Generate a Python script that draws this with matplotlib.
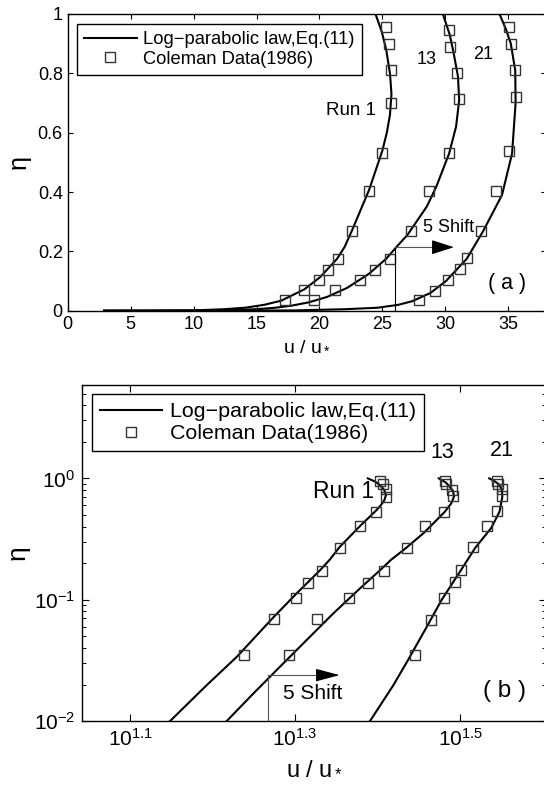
import matplotlib
matplotlib.use("Agg")
import matplotlib.pyplot as plt
from matplotlib.ticker import FixedLocator, LogLocator, NullFormatter, NullLocator

plt.rcParams['font.family'] = ['Liberation Sans', 'DejaVu Sans']
plt.rcParams['mathtext.fontset'] = 'custom'
plt.rcParams['mathtext.rm'] = 'Liberation Sans'
plt.rcParams['mathtext.it'] = 'Liberation Sans:italic'
plt.rcParams['mathtext.bf'] = 'Liberation Sans:bold'

# Coleman (1986) measured points, u/u* (with 5 shift between runs) and eta
run1_u = [17.3, 18.8, 20.0, 20.7, 21.5, 22.6, 23.9, 25.0, 25.7, 25.7, 25.5, 25.3]
run1_eta = [0.035, 0.069, 0.104, 0.138, 0.174, 0.267, 0.403, 0.53, 0.70, 0.81, 0.90, 0.955]
run13_u = [19.6, 21.2, 23.2, 24.45, 25.6, 27.3, 28.7, 30.27, 31.05, 30.9, 30.4, 30.3]
run13_eta = [0.035, 0.069, 0.103, 0.138, 0.173, 0.268, 0.403, 0.53, 0.713, 0.80, 0.89, 0.947]
run21_u = [27.9, 29.2, 30.2, 31.15, 31.75, 32.8, 34.05, 35.05, 35.6, 35.55, 35.2, 35.05]
run21_eta = [0.035, 0.068, 0.104, 0.14, 0.177, 0.27, 0.405, 0.537, 0.72, 0.81, 0.90, 0.957]

# Log-parabolic law curves
law1_u = [2.9, 6.0, 10.0, 12.4, 14.08, 15.6, 16.96, 18.8, 20.05, 21.4, 22.0, 22.6, 23.95,
          25.0, 25.35, 25.6, 25.72, 25.6, 25.3, 24.95, 24.45]
law1_eta = [1e-5, 1e-4, 1e-3, 0.005, 0.01, 0.0198, 0.0338, 0.072, 0.113, 0.175, 0.215, 0.272, 0.408,
            0.54, 0.60, 0.66, 0.73, 0.80, 0.88, 0.94, 1.0]
law13_u = [2.9, 7.0, 12.0, 15.0, 16.49, 17.77, 19.13, 20.61, 22.2, 23.92, 25.3, 26.1, 27.0,
           28.54, 29.3, 30.3, 30.85, 31.1, 31.0, 30.65, 30.35, 29.8]
law13_eta = [1e-5, 1e-4, 1e-3, 0.005, 0.01, 0.0169, 0.028, 0.0465, 0.077, 0.124, 0.175, 0.214, 0.256,
             0.352, 0.42, 0.53, 0.62, 0.71, 0.79, 0.87, 0.93, 1.0]
law21_u = [2.9, 12.0, 18.0, 22.0, 24.6, 26.26, 27.35, 28.82, 30.05, 31.7, 33.0, 34.5, 35.3,
           35.58, 35.55, 35.2, 34.8, 34.3]
law21_eta = [1e-6, 1e-4, 1e-3, 0.005, 0.01, 0.0198, 0.0318, 0.0598, 0.1, 0.175, 0.268, 0.39, 0.53,
             0.70, 0.81, 0.90, 0.95, 1.0]

runs_u = [run1_u, run13_u, run21_u]
runs_eta = [run1_eta, run13_eta, run21_eta]
laws_u = [law1_u, law13_u, law21_u]
laws_eta = [law1_eta, law13_eta, law21_eta]

lab_line = 'Log\u2212parabolic law,Eq.(11)'
lab_data = 'Coleman Data(1986)'

fig = plt.figure(figsize=(5.44, 7.90), dpi=100)

# ---------------- (a) linear axes ----------------
ax1 = fig.add_axes([0.1244, 0.6067, 0.8794, 0.3756])
for k in range(3):
    ax1.plot(laws_u[k], laws_eta[k], color='black', lw=1.5,
             label=lab_line if k == 0 else None)
for k in range(3):
    ax1.plot(runs_u[k], runs_eta[k], 's', ms=6.5, mfc='none', mec='#333333', mew=1.0,
             label=lab_data if k == 0 else None)

ax1.set_xlim(0, 38)
ax1.set_ylim(0, 1)
ax1.set_xticks([0, 5, 10, 15, 20, 25, 30, 35])
ax1.set_yticks([0, 0.2, 0.4, 0.6, 0.8, 1])
ax1.set_yticklabels(['0', '0.2', '0.4', '0.6', '0.8', '1'])
ax1.tick_params(direction='in', top=True, right=True, length=3.5, width=0.8,
                labelsize=13, pad=3.5)
for s in ax1.spines.values():
    s.set_linewidth(1.0)
ax1.set_xlabel('u / u$_*$', fontsize=14, labelpad=3)
ax1.set_ylabel('\u03b7', fontsize=18, labelpad=5)

ax1.text(20.5, 0.675, 'Run 1', fontsize=13.5, ha='left', va='center')
ax1.text(28.5, 0.845, '13', fontsize=13, ha='center', va='center')
ax1.text(33.0, 0.865, '21', fontsize=13, ha='center', va='center')
ax1.text(28.2, 0.28, '5 Shift', fontsize=13, ha='left', va='center')
ax1.text(34.9, 0.093, '( a )', fontsize=15.5, ha='center', va='center')

# shift arrow
ax1.plot([26.0, 26.0], [0, 0.214], color='black', lw=0.8)
ax1.plot([26.0, 29.5], [0.214, 0.214], color='#555555', lw=0.8)
ax1.annotate('', xy=(30.9, 0.214), xytext=(29.2, 0.214),
             arrowprops=dict(arrowstyle='-|>,head_length=1.4,head_width=0.45',
                             color='black', lw=0.8, mutation_scale=10))

leg1 = ax1.legend(loc='upper left', bbox_to_anchor=(76.7 / 544, 1 - 24 / 790),
                  bbox_transform=fig.transFigure, fontsize=13.2, frameon=True,
                  fancybox=False, edgecolor='black', framealpha=1,
                  handlelength=2.9, handletextpad=0.35, borderpad=0.38,
                  labelspacing=0.15, borderaxespad=0, numpoints=1)
leg1.get_frame().set_linewidth(1.0)

# ---------------- (b) log-log axes ----------------
ax2 = fig.add_axes([0.1513, 0.0873, 0.8524, 0.4253])
for k in range(3):
    ax2.plot(laws_u[k], laws_eta[k], color='black', lw=1.5,
             label=lab_line if k == 0 else None)
for k in range(3):
    ax2.plot(runs_u[k], runs_eta[k], 's', ms=7.5, mfc='none', mec='#333333', mew=1.0,
             label=lab_data if k == 0 else None)

ax2.set_xscale('log')
ax2.set_yscale('log')
ax2.set_xlim(10 ** 1.0422, 10 ** 1.6042)
ax2.set_ylim(0.01, 10 ** 0.769)
xt = [10 ** 1.1, 10 ** 1.3, 10 ** 1.5]
ax2.xaxis.set_major_locator(FixedLocator(xt))
ax2.xaxis.set_minor_locator(NullLocator())
ax2.set_xticklabels([r'$\mathregular{10^{1.1}}$', r'$\mathregular{10^{1.3}}$',
                     r'$\mathregular{10^{1.5}}$'])
ax2.yaxis.set_major_locator(FixedLocator([0.01, 0.1, 1]))
ax2.set_yticklabels([r'$\mathregular{10^{-2}}$', r'$\mathregular{10^{-1}}$',
                     r'$\mathregular{10^{0}}$'])
ax2.yaxis.set_minor_locator(LogLocator(base=10, subs=range(2, 10)))
ax2.yaxis.set_minor_formatter(NullFormatter())
ax2.tick_params(which='major', direction='in', top=True, right=True, length=5, width=0.8,
                labelsize=15, pad=5)
ax2.tick_params(which='minor', direction='in', top=True, right=True, length=3, width=0.7)
for s in ax2.spines.values():
    s.set_linewidth(1.0)
ax2.set_xlabel('u / u$_*$', fontsize=17, labelpad=5)
ax2.set_ylabel('\u03b7', fontsize=19, labelpad=3)

ax2.text(20.97, 0.776, 'Run 1', fontsize=16.5, ha='left', va='center')
ax2.text(30.05, 1.63, '13', fontsize=15.5, ha='center', va='center')
ax2.text(35.5, 1.71, '21', fontsize=15.5, ha='center', va='center')
ax2.text(20.96, 0.0169, '5 Shift', fontsize=15, ha='center', va='center')
ax2.text(35.85, 0.0177, '( b )', fontsize=17.5, ha='center', va='center')

ax2.plot([18.52, 18.52], [0.01, 0.0239], color='#555555', lw=0.8)
ax2.plot([18.52, 21.8], [0.0239, 0.0239], color='#555555', lw=0.8)
ax2.annotate('', xy=(22.77, 0.0239), xytext=(21.6, 0.0239),
             arrowprops=dict(arrowstyle='-|>,head_length=1.5,head_width=0.4',
                             color='black', lw=0.8, mutation_scale=10))

leg2 = ax2.legend(loc='upper left', bbox_to_anchor=(92 / 544, 1 - 394 / 790),
                  bbox_transform=fig.transFigure, fontsize=15.4, frameon=True,
                  fancybox=False, edgecolor='black', framealpha=1,
                  handlelength=2.9, handletextpad=0.35, borderpad=0.38,
                  labelspacing=0.15, borderaxespad=0, numpoints=1)
leg2.get_frame().set_linewidth(1.0)

fig.savefig('out.png', dpi=100, facecolor='white')
